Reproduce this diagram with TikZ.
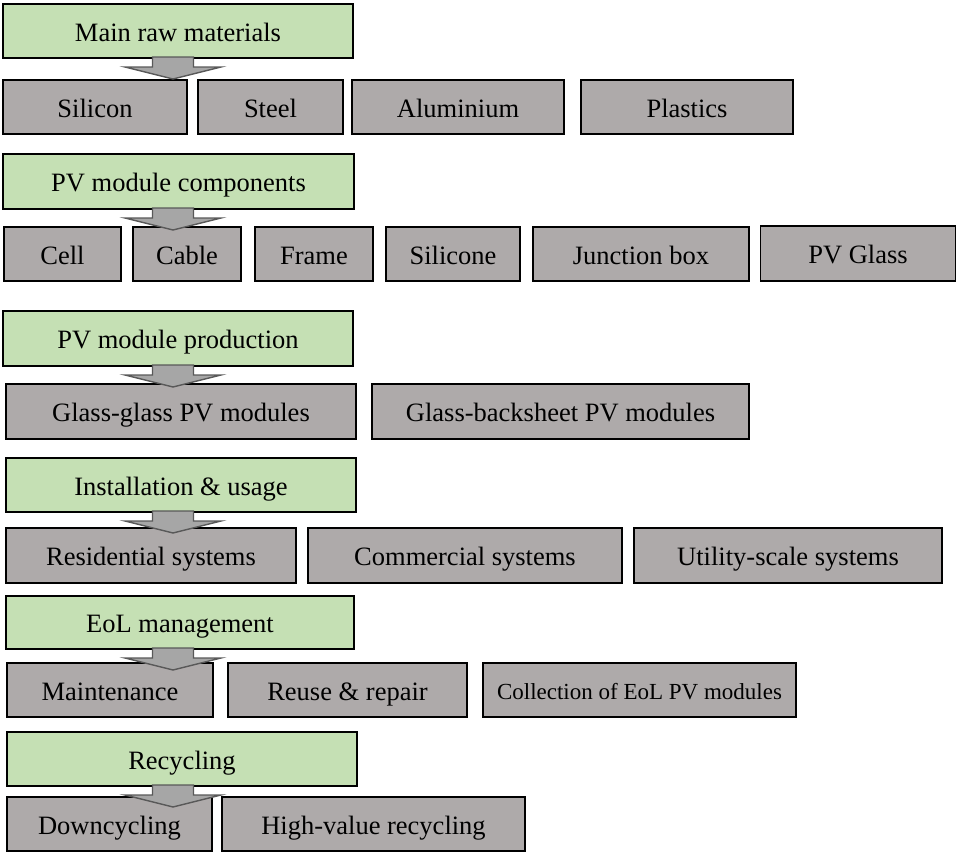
\documentclass[tikz,border=0pt]{standalone}
\usepackage{fontspec}
\setmainfont{Liberation Serif}
\begin{document}
\begin{tikzpicture}[x=1pt,y=-1pt,
  every node/.style={inner sep=0pt, outer sep=0pt, text height=20pt, text depth=0pt,
    font=\fontsize{26.5}{30}\selectfont},
  stage/.style={draw=black, line width=1.9pt, fill=stagegreen, minimum height=54pt},
  item/.style={draw=black, line width=1.9pt, fill=itemgray, minimum height=54pt},
  blockdown/.pic={
    \draw[fill=arrowfill, draw=arrowline, line width=1.4pt, line join=miter]
      (-20.5,-1) -- (20.5,-1) -- (20.5,9) -- (48,9) -- (0,21) -- (-48,9) -- (-20.5,9) -- cycle;
  }]
\definecolor{stagegreen}{HTML}{C5E0B4}
\definecolor{itemgray}{HTML}{AEAAAA}
\definecolor{arrowfill}{HTML}{A6A6A6}
\definecolor{arrowline}{HTML}{595959}
\useasboundingbox (0,0) rectangle (957,852);
\coordinate (ax) at (173,0);

% Main raw materials
\node[stage, minimum width=350pt] (g1) at (178,31) {Main raw materials};
\node[item, minimum width=184pt] (silicon) at (95,107) {Silicon};
\node[item, minimum width=145pt] (steel) at (270.5,107) {Steel};
\node[item, minimum width=212pt] (alu) at (458,107) {Aluminium};
\node[item, minimum width=212pt] (plastics) at (687,107) {Plastics};

% PV module components
\node[stage, minimum width=351pt, minimum height=55pt] (g2) at (178.5,181.5) {PV module components};
\node[item, minimum width=117pt] (cell) at (62.5,254) {Cell};
\node[item, minimum width=108pt] (cable) at (187,254) {Cable};
\node[item, minimum width=118pt] (frame) at (314,254) {Frame};
\node[item, minimum width=134pt] (silicone) at (453,254) {Silicone};
\node[item, minimum width=216pt] (jbox) at (641,254) {Junction box};
\node[item, minimum width=195pt, minimum height=55pt] (glass) at (858,253.5) {PV Glass};

% PV module production
\node[stage, minimum width=350pt, minimum height=55pt] (g3) at (178,338.5) {PV module production};
\node[item, minimum width=350pt, minimum height=55pt] (gg) at (181,411.5) {Glass-glass PV modules};
\node[item, minimum width=377pt, minimum height=55pt] (gb) at (560.5,411.5) {Glass-backsheet PV modules};

% Installation & usage
\node[stage, minimum width=350pt] (g4) at (181,485) {Installation \& usage};
\node[item, minimum width=290pt, minimum height=55pt] (res) at (151,555.5) {Residential systems};
\node[item, minimum width=314pt, minimum height=55pt] (com) at (465,555.5) {Commercial systems};
\node[item, minimum width=308pt, minimum height=55pt] (util) at (788,555.5) {Utility-scale systems};

% EoL management
\node[stage, minimum width=348pt, minimum height=53pt] (g5) at (180,622.5) {EoL management};
\node[item, minimum width=206pt] (maint) at (110,690) {Maintenance};
\node[item, minimum width=239pt] (reuse) at (347.5,690) {Reuse \& repair};
\node[item, minimum width=313pt, text height=18pt, font=\fontsize{23}{27}\selectfont] (collect) at (639.5,690) {Collection of EoL PV modules};

% Recycling
\node[stage, minimum width=350pt] (g6) at (182,759) {Recycling};
\node[item, minimum width=205pt] (down) at (109.5,824) {Downcycling};
\node[item, minimum width=303pt] (high) at (373.5,824) {High-value recycling};

% block arrows from each stage to its row
\path (g1.south -| ax) pic {blockdown};
\path (g2.south -| ax) pic {blockdown};
\path (g3.south -| ax) pic {blockdown};
\path (g4.south -| ax) pic {blockdown};
\path (g5.south -| ax) pic {blockdown};
\path (g6.south -| ax) pic {blockdown};
\end{tikzpicture}
\end{document}
